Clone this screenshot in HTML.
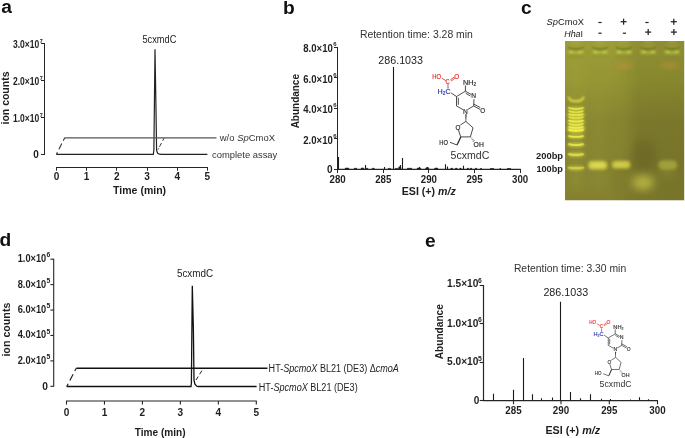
<!DOCTYPE html>
<html><head><meta charset="utf-8"><style>
html,body{margin:0;padding:0;background:#fff;}
svg{display:block;will-change:transform;}
svg{font-family:"Liberation Sans",sans-serif;fill:#1e1e1e;}
</style></head><body>
<svg width="685" height="438" viewBox="0 0 685 438">
<rect width="685" height="438" fill="#fff"/>
<text x="1.20" y="13.20" font-size="19.2" font-weight="bold" fill="#111">a</text>
<text x="282.90" y="13.90" font-size="19.2" font-weight="bold" fill="#111">b</text>
<text x="520.90" y="13.90" font-size="19.2" font-weight="bold" fill="#111">c</text>
<text x="-0.60" y="246.00" font-size="19.2" font-weight="bold" fill="#111">d</text>
<text x="424.90" y="246.70" font-size="19.2" font-weight="bold" fill="#111">e</text>
<line x1="44.50" y1="43.00" x2="44.50" y2="155.00" stroke="#262626" stroke-width="1"/>
<line x1="41.00" y1="154.50" x2="44.50" y2="154.50" stroke="#262626" stroke-width="1"/>
<text x="38.90" y="157.80" font-size="10.0" font-weight="bold" text-anchor="end">0</text>
<line x1="41.00" y1="117.50" x2="44.50" y2="117.50" stroke="#262626" stroke-width="1"/>
<text x="39.30" y="122.20" font-size="10.2" font-weight="bold" text-anchor="end" textLength="26.30" lengthAdjust="spacingAndGlyphs">1.0&#215;10</text>
<text x="39.70" y="116.60" font-size="5.5" font-weight="bold">7</text>
<line x1="41.00" y1="80.50" x2="44.50" y2="80.50" stroke="#262626" stroke-width="1"/>
<text x="39.30" y="85.20" font-size="10.2" font-weight="bold" text-anchor="end" textLength="26.30" lengthAdjust="spacingAndGlyphs">2.0&#215;10</text>
<text x="39.70" y="79.60" font-size="5.5" font-weight="bold">7</text>
<line x1="41.00" y1="43.50" x2="44.50" y2="43.50" stroke="#262626" stroke-width="1"/>
<text x="39.30" y="48.20" font-size="10.2" font-weight="bold" text-anchor="end" textLength="26.30" lengthAdjust="spacingAndGlyphs">3.0&#215;10</text>
<text x="39.70" y="42.60" font-size="5.5" font-weight="bold">7</text>
<line x1="56.00" y1="167.50" x2="207.90" y2="167.50" stroke="#262626" stroke-width="1"/>
<line x1="56.50" y1="167.50" x2="56.50" y2="170.70" stroke="#262626" stroke-width="1"/>
<text x="56.50" y="180.00" font-size="10.0" font-weight="bold" text-anchor="middle" textLength="5.60" lengthAdjust="spacingAndGlyphs">0</text>
<line x1="86.50" y1="167.50" x2="86.50" y2="170.70" stroke="#262626" stroke-width="1"/>
<text x="86.68" y="180.00" font-size="10.0" font-weight="bold" text-anchor="middle" textLength="5.60" lengthAdjust="spacingAndGlyphs">1</text>
<line x1="116.50" y1="167.50" x2="116.50" y2="170.70" stroke="#262626" stroke-width="1"/>
<text x="116.86" y="180.00" font-size="10.0" font-weight="bold" text-anchor="middle" textLength="5.60" lengthAdjust="spacingAndGlyphs">2</text>
<line x1="147.50" y1="167.50" x2="147.50" y2="170.70" stroke="#262626" stroke-width="1"/>
<text x="147.04" y="180.00" font-size="10.0" font-weight="bold" text-anchor="middle" textLength="5.60" lengthAdjust="spacingAndGlyphs">3</text>
<line x1="177.50" y1="167.50" x2="177.50" y2="170.70" stroke="#262626" stroke-width="1"/>
<text x="177.22" y="180.00" font-size="10.0" font-weight="bold" text-anchor="middle" textLength="5.60" lengthAdjust="spacingAndGlyphs">4</text>
<line x1="207.50" y1="167.50" x2="207.50" y2="170.70" stroke="#262626" stroke-width="1"/>
<text x="207.40" y="180.00" font-size="10.0" font-weight="bold" text-anchor="middle" textLength="5.60" lengthAdjust="spacingAndGlyphs">5</text>
<text x="113.10" y="193.90" font-size="11.0" font-weight="bold" textLength="53.00" lengthAdjust="spacingAndGlyphs">Time (min)</text>
<text transform="translate(9.0,98) rotate(-90)" font-size="11.2" font-weight="bold" text-anchor="middle" fill="#1e1e1e" textLength="53" lengthAdjust="spacingAndGlyphs">ion counts</text>
<path d="M56.3,154.4 L153.3,154.4 L153.9,150 L155.0,49.2 L156.0,110 L156.6,150.5 L157.6,153.3 L159.5,154.2 L161.5,154.4 L207.4,154.4" fill="none" stroke="#222" stroke-width="1.2"/>
<path d="M64.7,137.9 L216.5,137.9" fill="none" stroke="#555" stroke-width="1.4"/>
<path d="M56.3,154.5 L64.7,137.8" fill="none" stroke="#333" stroke-width="1.1" stroke-dasharray="2.6,3.2,6.5,3.2,4"/>
<path d="M158.0,149.6 L164.0,138.2" fill="none" stroke="#333" stroke-width="1.0" stroke-dasharray="1.4,1.8,4.2,2.6,3"/>
<text x="142.50" y="43.30" font-size="10.6" fill="#222" textLength="33.80" lengthAdjust="spacingAndGlyphs">5cxmdC</text>
<text x="219.80" y="140.90" font-size="9.5" fill="#333" textLength="55.20" lengthAdjust="spacingAndGlyphs">w/o <tspan font-style="italic">Sp</tspan>CmoX</text>
<text x="212.10" y="157.60" font-size="9.5" fill="#333" textLength="65.20" lengthAdjust="spacingAndGlyphs">complete assay</text>
<line x1="337.50" y1="47.00" x2="337.50" y2="169.80" stroke="#262626" stroke-width="1"/>
<line x1="334.00" y1="169.50" x2="337.50" y2="169.50" stroke="#262626" stroke-width="1"/>
<text x="332.60" y="172.80" font-size="10.0" font-weight="bold" text-anchor="end">0</text>
<line x1="334.00" y1="138.50" x2="337.50" y2="138.50" stroke="#262626" stroke-width="1"/>
<text x="332.80" y="143.50" font-size="10.2" font-weight="bold" text-anchor="end" textLength="29.50" lengthAdjust="spacingAndGlyphs">2.0&#215;10</text>
<text x="333.20" y="137.90" font-size="6" font-weight="bold">6</text>
<line x1="334.00" y1="108.50" x2="337.50" y2="108.50" stroke="#262626" stroke-width="1"/>
<text x="332.80" y="113.00" font-size="10.2" font-weight="bold" text-anchor="end" textLength="29.50" lengthAdjust="spacingAndGlyphs">4.0&#215;10</text>
<text x="333.20" y="107.40" font-size="6" font-weight="bold">6</text>
<line x1="334.00" y1="77.50" x2="337.50" y2="77.50" stroke="#262626" stroke-width="1"/>
<text x="332.80" y="82.50" font-size="10.2" font-weight="bold" text-anchor="end" textLength="29.50" lengthAdjust="spacingAndGlyphs">6.0&#215;10</text>
<text x="333.20" y="76.90" font-size="6" font-weight="bold">6</text>
<line x1="334.00" y1="47.50" x2="337.50" y2="47.50" stroke="#262626" stroke-width="1"/>
<text x="332.80" y="52.00" font-size="10.2" font-weight="bold" text-anchor="end" textLength="29.50" lengthAdjust="spacingAndGlyphs">8.0&#215;10</text>
<text x="333.20" y="46.40" font-size="6" font-weight="bold">6</text>
<line x1="337.00" y1="169.30" x2="520.80" y2="169.30" stroke="#262626" stroke-width="1.25"/>
<line x1="337.50" y1="169.30" x2="337.50" y2="173.10" stroke="#262626" stroke-width="1"/>
<text x="337.60" y="182.60" font-size="10.4" font-weight="bold" text-anchor="middle" textLength="16.20" lengthAdjust="spacingAndGlyphs">280</text>
<line x1="383.50" y1="169.30" x2="383.50" y2="173.10" stroke="#262626" stroke-width="1"/>
<text x="383.23" y="182.60" font-size="10.4" font-weight="bold" text-anchor="middle" textLength="16.20" lengthAdjust="spacingAndGlyphs">285</text>
<line x1="428.50" y1="169.30" x2="428.50" y2="173.10" stroke="#262626" stroke-width="1"/>
<text x="428.85" y="182.60" font-size="10.4" font-weight="bold" text-anchor="middle" textLength="16.20" lengthAdjust="spacingAndGlyphs">290</text>
<line x1="474.50" y1="169.30" x2="474.50" y2="173.10" stroke="#262626" stroke-width="1"/>
<text x="474.48" y="182.60" font-size="10.4" font-weight="bold" text-anchor="middle" textLength="16.20" lengthAdjust="spacingAndGlyphs">295</text>
<line x1="520.50" y1="169.30" x2="520.50" y2="173.10" stroke="#262626" stroke-width="1"/>
<text x="520.10" y="182.60" font-size="10.4" font-weight="bold" text-anchor="middle" textLength="16.20" lengthAdjust="spacingAndGlyphs">300</text>
<text x="401.70" y="195.30" font-size="11.0" font-weight="bold" textLength="54.10" lengthAdjust="spacingAndGlyphs">ESI (+) <tspan font-style="italic">m/z</tspan></text>
<text transform="translate(299.0,101.2) rotate(-90)" font-size="11.2" font-weight="bold" text-anchor="middle" fill="#1e1e1e" textLength="54.3" lengthAdjust="spacingAndGlyphs">Abundance</text>
<text x="359.90" y="38.20" font-size="10.4" fill="#333" textLength="113.00" lengthAdjust="spacingAndGlyphs">Retention time: 3.28 min</text>
<text x="378.30" y="63.80" font-size="10.8" fill="#222" textLength="44.70" lengthAdjust="spacingAndGlyphs">286.1033</text>
<path d="M338.50,169.30L338.50,156.90M393.50,169.30L393.50,67.00M402.50,169.30L402.50,158.00M400.50,169.30L400.50,165.00M365.50,169.30L365.50,165.00M445.50,169.30L445.50,164.20M463.50,169.30L463.50,165.70M419.50,169.30L419.50,167.00M427.50,169.30L427.50,167.00M447.50,169.30L447.50,166.50M384.50,169.30L384.50,167.00" fill="none" stroke="#1a1a1a" stroke-width="1.1"/>
<path d="M345,169.3 L345.4,168.10 L348.6,168.10 L349,169.3ZM354,169.3 L354.4,168.30 L356.6,168.30 L357,169.3ZM361,169.3 L361.4,168.00 L363.6,168.00 L364,169.3ZM366,169.3 L366.4,168.30 L367.6,168.30 L368,169.3ZM372,169.3 L372.4,168.30 L374.1,168.30 L374.5,169.3ZM388,169.3 L388.4,168.40 L390.6,168.40 L391,169.3ZM395,169.3 L395.4,168.40 L397.6,168.40 L398,169.3ZM398.5,169.3 L398.9,166.80 L400.6,166.80 L401,169.3ZM407,169.3 L407.4,168.30 L411.6,168.30 L412,169.3ZM417,169.3 L417.4,168.10 L420.6,168.10 L421,169.3ZM425.5,169.3 L425.9,167.80 L428.6,167.80 L429,169.3ZM434.5,169.3 L434.9,168.10 L437.6,168.10 L438,169.3ZM450.5,169.3 L450.9,168.30 L452.6,168.30 L453,169.3ZM455,169.3 L455.4,168.30 L457.1,168.30 L457.5,169.3ZM459.5,169.3 L459.9,168.30 L461.1,168.30 L461.5,169.3ZM467,169.3 L467.4,168.30 L468.6,168.30 L469,169.3ZM470,169.3 L470.4,168.30 L471.6,168.30 L472,169.3ZM475,169.3 L475.4,168.30 L476.6,168.30 L477,169.3ZM480,169.3 L480.4,168.50 L481.6,168.50 L482,169.3ZM490,169.3 L490.4,168.50 L493.6,168.50 L494,169.3ZM499.5,169.3 L499.9,168.50 L500.6,168.50 L501,169.3ZM507,169.3 L507.4,168.50 L510.6,168.50 L511,169.3Z" fill="#1e1e1e" stroke="#1e1e1e" stroke-width="0.6"/>
<g><text x="432.2" y="78.7" font-size="7.4" fill="#e62a2e" stroke="#e62a2e" stroke-width="0.18" textLength="8.8" lengthAdjust="spacingAndGlyphs">HO</text><text x="454.2" y="78.7" font-size="7.4" fill="#e62a2e" stroke="#e62a2e" stroke-width="0.18" textLength="5.0" lengthAdjust="spacingAndGlyphs">O</text><text x="445.6" y="83.6" font-size="7.0" fill="#e62a2e" stroke="#e62a2e" stroke-width="0.18" textLength="4.2" lengthAdjust="spacingAndGlyphs">C</text><line x1="442.0" y1="78.4" x2="445.9" y2="80.6" stroke="#e62a2e" stroke-width="0.85"/><line x1="450.4" y1="79.9" x2="454.2" y2="77.0" stroke="#e62a2e" stroke-width="0.85"/><line x1="451.1" y1="81.1" x2="454.8" y2="78.3" stroke="#e62a2e" stroke-width="0.85"/><line x1="448.0" y1="84.0" x2="448.0" y2="86.4" stroke="#e62a2e" stroke-width="0.85"/><line x1="448.0" y1="86.4" x2="448.0" y2="88.6" stroke="#3434b0" stroke-width="0.85"/><text x="437.6" y="94.1" font-size="7.0" fill="#3434b0" stroke="#3434b0" stroke-width="0.18" textLength="13.0" lengthAdjust="spacingAndGlyphs">H<tspan font-size="4.6" dy="1.2">2</tspan><tspan dy="-1.2">C</tspan></text><line x1="451.2" y1="93.0" x2="456.5" y2="96.5" stroke="#2a2a2a" stroke-width="0.85"/><line x1="456.5" y1="96.5" x2="465.4" y2="91.2" stroke="#2a2a2a" stroke-width="0.85"/><line x1="465.4" y1="91.2" x2="471.4" y2="94.6" stroke="#2a2a2a" stroke-width="0.85"/><line x1="465.6" y1="93.2" x2="470.4" y2="96.0" stroke="#2a2a2a" stroke-width="0.85"/><line x1="474.0" y1="99.2" x2="473.7" y2="106.0" stroke="#2a2a2a" stroke-width="0.85"/><line x1="473.7" y1="106.0" x2="467.8" y2="109.4" stroke="#2a2a2a" stroke-width="0.85"/><line x1="463.0" y1="109.6" x2="456.5" y2="106.0" stroke="#2a2a2a" stroke-width="0.85"/><line x1="456.5" y1="106.0" x2="456.5" y2="96.5" stroke="#2a2a2a" stroke-width="0.85"/><line x1="458.3" y1="104.8" x2="458.3" y2="97.7" stroke="#2a2a2a" stroke-width="0.85"/><line x1="465.4" y1="91.2" x2="465.4" y2="85.4" stroke="#2a2a2a" stroke-width="0.85"/><line x1="473.7" y1="106.0" x2="480.0" y2="109.4" stroke="#2a2a2a" stroke-width="0.85"/><line x1="473.7" y1="104.0" x2="480.3" y2="107.6" stroke="#2a2a2a" stroke-width="0.85"/><text x="463.0" y="84.6" font-size="7.2" fill="#2a2a2a" stroke="#2a2a2a" stroke-width="0.18" textLength="13.0" lengthAdjust="spacingAndGlyphs">NH<tspan font-size="4.6" dy="1.2">2</tspan></text><text x="471.3" y="98.4" font-size="7.2" fill="#2a2a2a" stroke="#2a2a2a" stroke-width="0.18" textLength="4.8" lengthAdjust="spacingAndGlyphs">N</text><text x="463.1" y="113.7" font-size="7.2" fill="#2a2a2a" stroke="#2a2a2a" stroke-width="0.18" textLength="4.8" lengthAdjust="spacingAndGlyphs">N</text><text x="480.3" y="113.1" font-size="7.2" fill="#2a2a2a" stroke="#2a2a2a" stroke-width="0.18" textLength="4.9" lengthAdjust="spacingAndGlyphs">O</text><path d="M465.3,114.2 L466.6,114.2 L466.2,121.4 L465.6,121.4Z" fill="#2a2a2a"/><line x1="465.9" y1="121.4" x2="460.4" y2="125.0" stroke="#2a2a2a" stroke-width="0.85"/><line x1="465.9" y1="121.4" x2="473.0" y2="127.8" stroke="#2a2a2a" stroke-width="0.85"/><line x1="473.0" y1="127.8" x2="470.4" y2="136.9" stroke="#2a2a2a" stroke-width="0.85"/><line x1="470.4" y1="136.9" x2="460.7" y2="136.9" stroke="#2a2a2a" stroke-width="0.85"/><line x1="460.7" y1="136.9" x2="458.4" y2="129.8" stroke="#2a2a2a" stroke-width="0.85"/><text x="455.4" y="129.5" font-size="7.0" fill="#2a2a2a" stroke="#2a2a2a" stroke-width="0.18" textLength="4.9" lengthAdjust="spacingAndGlyphs">O</text><path d="M460.2,136.7 L461.4,137.2 L457.6,145.2 L456.5,144.8Z" fill="#2a2a2a"/><line x1="457.0" y1="145.0" x2="450.0" y2="142.3" stroke="#2a2a2a" stroke-width="0.85"/><text x="439.3" y="144.5" font-size="7.0" fill="#2a2a2a" stroke="#2a2a2a" stroke-width="0.18" textLength="8.6" lengthAdjust="spacingAndGlyphs">HO</text><line x1="470.74066666666664" y1="138.044" x2="471.4593333333333" y2="137.456" stroke="#2a2a2a" stroke-width="0.5"/><line x1="471.31233333333336" y1="138.999" x2="472.28766666666667" y2="138.201" stroke="#2a2a2a" stroke-width="0.5"/><line x1="471.884" y1="139.95399999999998" x2="473.116" y2="138.946" stroke="#2a2a2a" stroke-width="0.5"/><line x1="472.4556666666667" y1="140.90900000000002" x2="473.9443333333333" y2="139.691" stroke="#2a2a2a" stroke-width="0.5"/><line x1="473.0273333333334" y1="141.864" x2="474.7726666666667" y2="140.436" stroke="#2a2a2a" stroke-width="0.5"/><text x="473.6" y="146.6" font-size="7.0" fill="#2a2a2a" stroke="#2a2a2a" stroke-width="0.18" textLength="10.2" lengthAdjust="spacingAndGlyphs">OH</text></g>
<text x="450.50" y="158.90" font-size="10.6" fill="#333" textLength="38.80" lengthAdjust="spacingAndGlyphs">5cxmdC</text>
<text x="546.50" y="24.90" font-size="9.3" fill="#222" textLength="37.40" lengthAdjust="spacingAndGlyphs"><tspan font-style="italic">Sp</tspan>CmoX</text>
<text x="564.20" y="36.90" font-size="9.3" fill="#222" textLength="18.90" lengthAdjust="spacingAndGlyphs"><tspan font-style="italic">Hha</tspan>I</text>
<line x1="598.40" y1="22.50" x2="601.60" y2="22.50" stroke="#222" stroke-width="1.2"/>
<line x1="620.60" y1="21.70" x2="626.60" y2="21.70" stroke="#222" stroke-width="1.25"/>
<line x1="623.60" y1="18.70" x2="623.60" y2="24.70" stroke="#222" stroke-width="1.25"/>
<line x1="645.40" y1="22.50" x2="648.60" y2="22.50" stroke="#222" stroke-width="1.2"/>
<line x1="670.80" y1="21.70" x2="676.80" y2="21.70" stroke="#222" stroke-width="1.25"/>
<line x1="673.80" y1="18.70" x2="673.80" y2="24.70" stroke="#222" stroke-width="1.25"/>
<line x1="598.40" y1="33.20" x2="601.60" y2="33.20" stroke="#222" stroke-width="1.2"/>
<line x1="622.80" y1="33.20" x2="626.00" y2="33.20" stroke="#222" stroke-width="1.2"/>
<line x1="645.20" y1="32.10" x2="651.20" y2="32.10" stroke="#222" stroke-width="1.25"/>
<line x1="648.20" y1="29.10" x2="648.20" y2="35.10" stroke="#222" stroke-width="1.25"/>
<line x1="670.90" y1="32.10" x2="676.90" y2="32.10" stroke="#222" stroke-width="1.25"/>
<line x1="673.90" y1="29.10" x2="673.90" y2="35.10" stroke="#222" stroke-width="1.25"/>
<text x="536.00" y="158.90" font-size="9.4" font-weight="bold" textLength="27.10" lengthAdjust="spacingAndGlyphs">200bp</text>
<text x="536.40" y="172.10" font-size="9.4" font-weight="bold" textLength="26.60" lengthAdjust="spacingAndGlyphs">100bp</text>
<defs>
<clipPath id="gclip"><rect x="565.0" y="41.0" width="119.0" height="159.5"/></clipPath>
<linearGradient id="gv" x1="0" y1="41.0" x2="0" y2="200.5" gradientUnits="userSpaceOnUse">
<stop offset="0" stop-color="#9d9d38"/><stop offset="0.25" stop-color="#959533"/><stop offset="0.5" stop-color="#878430"/><stop offset="0.75" stop-color="#84812f"/><stop offset="1" stop-color="#85812f"/>
</linearGradient>
<linearGradient id="gh" x1="565.0" y1="0" x2="684.0" y2="0" gradientUnits="userSpaceOnUse">
<stop offset="0" stop-color="#000" stop-opacity="0"/><stop offset="0.38" stop-color="#000" stop-opacity="0.0"/><stop offset="0.62" stop-color="#000" stop-opacity="0.09"/><stop offset="1" stop-color="#000" stop-opacity="0.1"/>
</linearGradient>
<filter id="b1" x="-50%" y="-50%" width="200%" height="200%"><feGaussianBlur stdDeviation="1.0"/></filter>
<filter id="b15" x="-50%" y="-50%" width="200%" height="200%"><feGaussianBlur stdDeviation="1.6"/></filter>
<filter id="b2" x="-50%" y="-50%" width="200%" height="200%"><feGaussianBlur stdDeviation="2.4"/></filter>
<filter id="b3" x="-50%" y="-50%" width="200%" height="200%"><feGaussianBlur stdDeviation="4.5"/></filter>
<filter id="b6" x="-50%" y="-50%" width="200%" height="200%"><feGaussianBlur stdDeviation="9"/></filter>
</defs>
<g clip-path="url(#gclip)">
<rect x="565.0" y="41.0" width="119.0" height="159.5" fill="url(#gv)"/>
<rect x="565.0" y="41.0" width="119.0" height="159.5" fill="url(#gh)"/>
<g filter="url(#b3)"><ellipse cx="644" cy="156" rx="13" ry="17" fill="#655f1e" opacity="0.5"/><rect x="568" y="60" width="16" height="130" fill="#a4a43c" opacity="0.25"/><rect x="590" y="60" width="16" height="130" fill="#9a9838" opacity="0.25"/><rect x="614" y="60" width="16" height="100" fill="#969436" opacity="0.2"/></g>
<g filter="url(#b1)">
<rect x="567.5" y="44.6" width="16.5" height="11.6" rx="2.5" fill="#a8aa40" opacity="0.35"/>
<path d="M568.0,46.6 Q575.7,50.6 583.5,46.6 L583.5,48.2 Q575.7,52.2 568.0,48.2Z" fill="#56541c" opacity="0.7"/>
<ellipse cx="571.2" cy="52.0" rx="2.8" ry="1.3" fill="#c4e040" opacity="0.8"/>
<ellipse cx="580.2" cy="52.0" rx="2.8" ry="1.3" fill="#c4e040" opacity="0.8"/>
<ellipse cx="575.7" cy="52.6" rx="4" ry="1.0" fill="#bcd040" opacity="0.5"/>
<rect x="568.0" y="55.6" width="15.5" height="1.0" rx="0.5" fill="#75721f" opacity="0.5"/>
<rect x="571.0" y="41.5" width="9.5" height="1.3" rx="0.6" fill="#c0cc40" opacity="0.45"/>
<rect x="591.9" y="44.6" width="16.5" height="11.6" rx="2.5" fill="#a8aa40" opacity="0.35"/>
<path d="M592.4,46.6 Q600.1,50.6 607.9,46.6 L607.9,48.2 Q600.1,52.2 592.4,48.2Z" fill="#56541c" opacity="0.7"/>
<ellipse cx="595.6" cy="52.0" rx="2.8" ry="1.3" fill="#c4e040" opacity="0.8"/>
<ellipse cx="604.6" cy="52.0" rx="2.8" ry="1.3" fill="#c4e040" opacity="0.8"/>
<ellipse cx="600.1" cy="52.6" rx="4" ry="1.0" fill="#bcd040" opacity="0.5"/>
<rect x="592.4" y="55.6" width="15.5" height="1.0" rx="0.5" fill="#75721f" opacity="0.5"/>
<rect x="595.4" y="41.5" width="9.5" height="1.3" rx="0.6" fill="#c0cc40" opacity="0.45"/>
<rect x="615.5" y="44.6" width="17" height="11.6" rx="2.5" fill="#a8aa40" opacity="0.35"/>
<path d="M616.0,46.6 Q624.0,50.6 632.0,46.6 L632.0,48.2 Q624.0,52.2 616.0,48.2Z" fill="#56541c" opacity="0.7"/>
<ellipse cx="619.2" cy="52.0" rx="2.8" ry="1.3" fill="#c4e040" opacity="0.8"/>
<ellipse cx="628.8" cy="52.0" rx="2.8" ry="1.3" fill="#c4e040" opacity="0.8"/>
<ellipse cx="624.0" cy="52.6" rx="4" ry="1.0" fill="#bcd040" opacity="0.5"/>
<rect x="616.0" y="55.6" width="16" height="1.0" rx="0.5" fill="#75721f" opacity="0.5"/>
<rect x="619.0" y="41.5" width="10" height="1.3" rx="0.6" fill="#c0cc40" opacity="0.45"/>
<rect x="640.0" y="44.6" width="16.5" height="11.6" rx="2.5" fill="#a8aa40" opacity="0.35"/>
<path d="M640.5,46.6 Q648.2,50.6 656.0,46.6 L656.0,48.2 Q648.2,52.2 640.5,48.2Z" fill="#56541c" opacity="0.7"/>
<ellipse cx="643.7" cy="52.0" rx="2.8" ry="1.3" fill="#c4e040" opacity="0.8"/>
<ellipse cx="652.8" cy="52.0" rx="2.8" ry="1.3" fill="#c4e040" opacity="0.8"/>
<ellipse cx="648.2" cy="52.6" rx="4" ry="1.0" fill="#bcd040" opacity="0.5"/>
<rect x="640.5" y="55.6" width="15.5" height="1.0" rx="0.5" fill="#75721f" opacity="0.5"/>
<rect x="643.5" y="41.5" width="9.5" height="1.3" rx="0.6" fill="#c0cc40" opacity="0.45"/>
<rect x="664.1" y="44.6" width="16" height="11.6" rx="2.5" fill="#a8aa40" opacity="0.35"/>
<path d="M664.6,46.6 Q672.1,50.6 679.6,46.6 L679.6,48.2 Q672.1,52.2 664.6,48.2Z" fill="#56541c" opacity="0.7"/>
<ellipse cx="667.8" cy="52.0" rx="2.8" ry="1.3" fill="#c4e040" opacity="0.8"/>
<ellipse cx="676.4" cy="52.0" rx="2.8" ry="1.3" fill="#c4e040" opacity="0.8"/>
<ellipse cx="672.1" cy="52.6" rx="4" ry="1.0" fill="#bcd040" opacity="0.5"/>
<rect x="664.6" y="55.6" width="15" height="1.0" rx="0.5" fill="#75721f" opacity="0.5"/>
<rect x="667.6" y="41.5" width="9" height="1.3" rx="0.6" fill="#c0cc40" opacity="0.45"/>
</g>
<g filter="url(#b2)"><ellipse cx="624" cy="65.6" rx="9" ry="2.6" fill="#c49038" opacity="0.6"/><ellipse cx="670" cy="65.6" rx="9" ry="2.6" fill="#c49038" opacity="0.6"/></g>
<g filter="url(#b1)">
<path d="M568.6,96.8 Q569.2,101.2 576,101.2 Q582.8,101.2 583.6,96.8" fill="none" stroke="#e4e844" stroke-width="2.0" opacity="0.9"/>
<path d="M567.8,107.5 L584.2,107.5 L584.2,131.5 Q576,133.5 567.8,131.5Z" fill="#bfbf3c" opacity="0.22"/>
</g>
<filter id="b07" x="-50%" y="-50%" width="200%" height="200%"><feGaussianBlur stdDeviation="0.75"/></filter>
<g filter="url(#b15)">
<path d="M568.6,108.0 Q569.5,109.1 576,109.1 Q582.5,109.1 583.4,108.0" fill="none" stroke="#e8e848" stroke-width="3" opacity="0.7"/>
<path d="M568.6,113.9 Q569.5,115.0 576,115.0 Q582.5,115.0 583.4,113.9" fill="none" stroke="#e8e848" stroke-width="5" opacity="0.7"/>
<path d="M568.6,120.3 Q569.5,121.4 576,121.4 Q582.5,121.4 583.4,120.3" fill="none" stroke="#e8e848" stroke-width="5" opacity="0.7"/>
<path d="M568.6,126.4 Q569.5,127.5 576,127.5 Q582.5,127.5 583.4,126.4" fill="none" stroke="#e8e848" stroke-width="5" opacity="0.75"/>
<path d="M568.6,129.6 Q569.5,130.7 576,130.7 Q582.5,130.7 583.4,129.6" fill="none" stroke="#e8e848" stroke-width="3.5" opacity="0.8"/>
<path d="M568.6,135.7 Q569.5,136.8 576,136.8 Q582.5,136.8 583.4,135.7" fill="none" stroke="#e8e848" stroke-width="3.5" opacity="0.7"/>
<path d="M568.6,143.8 Q569.5,144.9 576,144.9 Q582.5,144.9 583.4,143.8" fill="none" stroke="#e8e848" stroke-width="3.8" opacity="0.65"/>
<path d="M568.6,153.7 Q569.5,154.8 576,154.8 Q582.5,154.8 583.4,153.7" fill="none" stroke="#e8e848" stroke-width="4" opacity="0.6"/>
<path d="M568.6,167.1 Q569.5,168.2 576,168.2 Q582.5,168.2 583.4,167.1" fill="none" stroke="#e8e848" stroke-width="4.2" opacity="0.5"/>
</g>
<g filter="url(#b07)">
<path d="M568.6,107.4 Q569.5,108.9 576,108.9 Q582.5,108.9 583.4,107.4" fill="none" stroke="#f0f048" stroke-width="1.5" opacity="0.8"/>
<path d="M568.6,110.6 Q569.5,112.1 576,112.1 Q582.5,112.1 583.4,110.6" fill="none" stroke="#f0f048" stroke-width="1.4" opacity="0.8"/>
<path d="M568.6,113.6 Q569.5,115.1 576,115.1 Q582.5,115.1 583.4,113.6" fill="none" stroke="#f0f048" stroke-width="1.4" opacity="0.8"/>
<path d="M568.6,116.6 Q569.5,118.1 576,118.1 Q582.5,118.1 583.4,116.6" fill="none" stroke="#f0f048" stroke-width="1.4" opacity="0.8"/>
<path d="M568.6,120.0 Q569.5,121.5 576,121.5 Q582.5,121.5 583.4,120.0" fill="none" stroke="#f0f048" stroke-width="1.5" opacity="0.85"/>
<path d="M568.6,123.4 Q569.5,124.9 576,124.9 Q582.5,124.9 583.4,123.4" fill="none" stroke="#f0f048" stroke-width="1.5" opacity="0.85"/>
<path d="M568.6,126.4 Q569.5,127.9 576,127.9 Q582.5,127.9 583.4,126.4" fill="none" stroke="#f0f048" stroke-width="1.5" opacity="0.9"/>
<path d="M568.6,129.3 Q569.5,130.8 576,130.8 Q582.5,130.8 583.4,129.3" fill="none" stroke="#f0f048" stroke-width="2.0" opacity="1.0"/>
<path d="M568.6,135.4 Q569.5,136.9 576,136.9 Q582.5,136.9 583.4,135.4" fill="none" stroke="#f0f048" stroke-width="1.9" opacity="0.8"/>
<path d="M568.6,143.5 Q569.5,145.0 576,145.0 Q582.5,145.0 583.4,143.5" fill="none" stroke="#f0f048" stroke-width="2.1" opacity="0.7"/>
<path d="M568.6,153.4 Q569.5,154.9 576,154.9 Q582.5,154.9 583.4,153.4" fill="none" stroke="#f0f048" stroke-width="2.3" opacity="0.6"/>
<path d="M568.6,166.8 Q569.5,168.3 576,168.3 Q582.5,168.3 583.4,166.8" fill="none" stroke="#f0f048" stroke-width="2.6" opacity="0.45"/>
</g>
<g filter="url(#b15)"><rect x="588.2" y="161.0" width="19" height="8.4" rx="4" fill="#dcd84a" opacity="0.85"/><rect x="611.8" y="160.8" width="18.6" height="7.8" rx="3.9" fill="#d8d448" opacity="0.78"/><rect x="658.5" y="160.2" width="18.5" height="9.5" rx="4.5" fill="#bcb844" opacity="0.62"/></g>
<g filter="url(#b15)"><ellipse cx="597.6" cy="165.2" rx="6.5" ry="2.0" fill="#f0ec5a" opacity="0.45"/><ellipse cx="621.2" cy="164.8" rx="6.5" ry="1.8" fill="#ece856" opacity="0.35"/></g>
<g filter="url(#b3)"><ellipse cx="643.0" cy="182.6" rx="11" ry="7.5" fill="#c8c44a" opacity="0.75"/><ellipse cx="667.5" cy="173" rx="7" ry="3.5" fill="#a8a43c" opacity="0.35"/></g>
</g>
<rect x="684.0" y="41.0" width="1" height="159.5" fill="#e4e4cc"/>
<line x1="53.70" y1="258.70" x2="53.70" y2="386.80" stroke="#262626" stroke-width="1.1"/>
<line x1="50.40" y1="386.30" x2="53.70" y2="386.30" stroke="#262626" stroke-width="1.1"/>
<text x="47.80" y="389.80" font-size="10.2" font-weight="bold" text-anchor="end">0</text>
<line x1="50.40" y1="360.88" x2="53.70" y2="360.88" stroke="#262626" stroke-width="1.1"/>
<text x="46.20" y="363.78" font-size="10.0" font-weight="bold" text-anchor="end" textLength="28.50" lengthAdjust="spacingAndGlyphs">2.0&#215;10</text>
<text x="46.40" y="358.98" font-size="6.8" font-weight="bold">5</text>
<line x1="50.40" y1="335.46" x2="53.70" y2="335.46" stroke="#262626" stroke-width="1.1"/>
<text x="46.20" y="338.36" font-size="10.0" font-weight="bold" text-anchor="end" textLength="28.50" lengthAdjust="spacingAndGlyphs">4.0&#215;10</text>
<text x="46.40" y="333.56" font-size="6.8" font-weight="bold">5</text>
<line x1="50.40" y1="310.04" x2="53.70" y2="310.04" stroke="#262626" stroke-width="1.1"/>
<text x="46.20" y="312.94" font-size="10.0" font-weight="bold" text-anchor="end" textLength="28.50" lengthAdjust="spacingAndGlyphs">6.0&#215;10</text>
<text x="46.40" y="308.14" font-size="6.8" font-weight="bold">5</text>
<line x1="50.40" y1="284.62" x2="53.70" y2="284.62" stroke="#262626" stroke-width="1.1"/>
<text x="46.20" y="287.52" font-size="10.0" font-weight="bold" text-anchor="end" textLength="28.50" lengthAdjust="spacingAndGlyphs">8.0&#215;10</text>
<text x="46.40" y="282.72" font-size="6.8" font-weight="bold">5</text>
<line x1="50.40" y1="259.20" x2="53.70" y2="259.20" stroke="#262626" stroke-width="1.1"/>
<text x="46.20" y="262.10" font-size="10.0" font-weight="bold" text-anchor="end" textLength="28.50" lengthAdjust="spacingAndGlyphs">1.0&#215;10</text>
<text x="46.40" y="257.30" font-size="6.8" font-weight="bold">6</text>
<line x1="66.00" y1="401.00" x2="256.80" y2="401.00" stroke="#262626" stroke-width="1.1"/>
<line x1="66.50" y1="401.00" x2="66.50" y2="404.60" stroke="#262626" stroke-width="1.1"/>
<text x="66.50" y="416.30" font-size="10.0" font-weight="bold" text-anchor="middle" textLength="5.60" lengthAdjust="spacingAndGlyphs">0</text>
<line x1="104.46" y1="401.00" x2="104.46" y2="404.60" stroke="#262626" stroke-width="1.1"/>
<text x="104.46" y="416.30" font-size="10.0" font-weight="bold" text-anchor="middle" textLength="5.60" lengthAdjust="spacingAndGlyphs">1</text>
<line x1="142.42" y1="401.00" x2="142.42" y2="404.60" stroke="#262626" stroke-width="1.1"/>
<text x="142.42" y="416.30" font-size="10.0" font-weight="bold" text-anchor="middle" textLength="5.60" lengthAdjust="spacingAndGlyphs">2</text>
<line x1="180.38" y1="401.00" x2="180.38" y2="404.60" stroke="#262626" stroke-width="1.1"/>
<text x="180.38" y="416.30" font-size="10.0" font-weight="bold" text-anchor="middle" textLength="5.60" lengthAdjust="spacingAndGlyphs">3</text>
<line x1="218.34" y1="401.00" x2="218.34" y2="404.60" stroke="#262626" stroke-width="1.1"/>
<text x="218.34" y="416.30" font-size="10.0" font-weight="bold" text-anchor="middle" textLength="5.60" lengthAdjust="spacingAndGlyphs">4</text>
<line x1="256.30" y1="401.00" x2="256.30" y2="404.60" stroke="#262626" stroke-width="1.1"/>
<text x="256.30" y="416.30" font-size="10.0" font-weight="bold" text-anchor="middle" textLength="5.60" lengthAdjust="spacingAndGlyphs">5</text>
<text x="134.70" y="436.30" font-size="11.0" font-weight="bold" textLength="50.90" lengthAdjust="spacingAndGlyphs">Time (min)</text>
<text transform="translate(10.0,329.6) rotate(-90)" font-size="11.2" font-weight="bold" text-anchor="middle" fill="#1e1e1e" textLength="54" lengthAdjust="spacingAndGlyphs">ion counts</text>
<path d="M66.7,386.5 L191.0,386.5 L191.4,383 L192.3,285.8 L193.4,330 L194.0,380 L194.8,384 L196.5,386.0 L198,386.5 L256.6,386.5" fill="none" stroke="#111" stroke-width="1.3"/>
<path d="M76.3,368.2 L267.5,368.2" fill="none" stroke="#111" stroke-width="1.5"/>
<path d="M66.7,386.5 L76.3,368.2" fill="none" stroke="#222" stroke-width="1.2" stroke-dasharray="3.2,3.6,7,3.6,4"/>
<path d="M196.0,380.0 L202.9,369.0" fill="none" stroke="#222" stroke-width="1.0" stroke-dasharray="4.2,2.6"/>
<text x="176.90" y="277.30" font-size="10.2" fill="#222" textLength="36.20" lengthAdjust="spacingAndGlyphs">5cxmdC</text>
<text x="268.60" y="372.10" font-size="10.0" fill="#222" textLength="130.30" lengthAdjust="spacingAndGlyphs">HT-<tspan font-style="italic">SpcmoX</tspan> BL21 (DE3) &#916;<tspan font-style="italic">cmoA</tspan></text>
<text x="258.80" y="390.50" font-size="10.0" fill="#222" textLength="98.90" lengthAdjust="spacingAndGlyphs">HT-<tspan font-style="italic">SpcmoX</tspan> BL21 (DE3)</text>
<line x1="483.50" y1="285.01" x2="483.50" y2="401.00" stroke="#262626" stroke-width="1.2"/>
<line x1="479.70" y1="400.50" x2="483.50" y2="400.50" stroke="#262626" stroke-width="1.1"/>
<text x="479.30" y="403.80" font-size="10.0" font-weight="bold" text-anchor="end">0</text>
<line x1="479.70" y1="362.50" x2="483.50" y2="362.50" stroke="#262626" stroke-width="1.1"/>
<text x="478.40" y="365.07" font-size="10.2" font-weight="bold" text-anchor="end" textLength="31.30" lengthAdjust="spacingAndGlyphs">5.0&#215;10</text>
<text x="478.00" y="360.67" font-size="6.8" font-weight="bold">5</text>
<line x1="479.70" y1="323.50" x2="483.50" y2="323.50" stroke="#262626" stroke-width="1.1"/>
<text x="478.40" y="326.74" font-size="10.2" font-weight="bold" text-anchor="end" textLength="31.30" lengthAdjust="spacingAndGlyphs">1.0&#215;10</text>
<text x="478.00" y="322.34" font-size="6.8" font-weight="bold">6</text>
<line x1="479.70" y1="285.50" x2="483.50" y2="285.50" stroke="#262626" stroke-width="1.1"/>
<text x="478.40" y="287.41" font-size="10.2" font-weight="bold" text-anchor="end" textLength="31.30" lengthAdjust="spacingAndGlyphs">1.5&#215;10</text>
<text x="478.00" y="283.01" font-size="6.8" font-weight="bold">6</text>
<line x1="483.00" y1="400.50" x2="657.93" y2="400.50" stroke="#262626" stroke-width="1.25"/>
<line x1="513.50" y1="400.50" x2="513.50" y2="404.30" stroke="#262626" stroke-width="1.1"/>
<text x="513.50" y="413.50" font-size="10.4" font-weight="bold" text-anchor="middle" textLength="16.30" lengthAdjust="spacingAndGlyphs">285</text>
<line x1="561.00" y1="400.50" x2="561.00" y2="404.30" stroke="#262626" stroke-width="1.1"/>
<text x="561.00" y="413.50" font-size="10.4" font-weight="bold" text-anchor="middle" textLength="16.30" lengthAdjust="spacingAndGlyphs">290</text>
<line x1="609.30" y1="400.50" x2="609.30" y2="404.30" stroke="#262626" stroke-width="1.1"/>
<text x="609.30" y="413.50" font-size="10.4" font-weight="bold" text-anchor="middle" textLength="16.30" lengthAdjust="spacingAndGlyphs">295</text>
<line x1="657.50" y1="400.50" x2="657.50" y2="404.30" stroke="#262626" stroke-width="1.1"/>
<text x="657.50" y="413.50" font-size="10.4" font-weight="bold" text-anchor="middle" textLength="16.30" lengthAdjust="spacingAndGlyphs">300</text>
<text x="545.40" y="434.00" font-size="11.0" font-weight="bold" textLength="54.70" lengthAdjust="spacingAndGlyphs">ESI (+) <tspan font-style="italic">m/z</tspan></text>
<text transform="translate(443.4,331.7) rotate(-90)" font-size="11.2" font-weight="bold" text-anchor="middle" fill="#1e1e1e" textLength="55" lengthAdjust="spacingAndGlyphs">Abundance</text>
<text x="513.90" y="271.80" font-size="10.4" fill="#333" textLength="112.30" lengthAdjust="spacingAndGlyphs">Retention time: 3.30 min</text>
<text x="543.40" y="295.80" font-size="10.8" fill="#222" textLength="44.80" lengthAdjust="spacingAndGlyphs">286.1033</text>
<path d="M493.50,400.50L493.50,393.70M513.50,400.50L513.50,389.70M523.50,400.50L523.50,358.00M532.50,400.50L532.50,394.20M541.50,400.50L541.50,398.30M552.50,400.50L552.50,397.50M560.50,400.50L560.50,301.70M570.50,400.50L570.50,392.00M580.50,400.50L580.50,398.30M590.50,400.50L590.50,394.20M601.50,400.50L601.50,398.70M610.50,400.50L610.50,399.00M630.50,400.50L630.50,399.40M639.50,400.50L639.50,397.20M648.50,400.50L648.50,399.30" fill="none" stroke="#1a1a1a" stroke-width="1.1"/>
<g transform="translate(252.2,262.7) scale(0.78)"><text x="432.2" y="78.7" font-size="7.4" fill="#e62a2e" stroke="#e62a2e" stroke-width="0.18" textLength="8.8" lengthAdjust="spacingAndGlyphs">HO</text><text x="454.2" y="78.7" font-size="7.4" fill="#e62a2e" stroke="#e62a2e" stroke-width="0.18" textLength="5.0" lengthAdjust="spacingAndGlyphs">O</text><text x="445.6" y="83.6" font-size="7.0" fill="#e62a2e" stroke="#e62a2e" stroke-width="0.18" textLength="4.2" lengthAdjust="spacingAndGlyphs">C</text><line x1="442.0" y1="78.4" x2="445.9" y2="80.6" stroke="#e62a2e" stroke-width="0.85"/><line x1="450.4" y1="79.9" x2="454.2" y2="77.0" stroke="#e62a2e" stroke-width="0.85"/><line x1="451.1" y1="81.1" x2="454.8" y2="78.3" stroke="#e62a2e" stroke-width="0.85"/><line x1="448.0" y1="84.0" x2="448.0" y2="86.4" stroke="#e62a2e" stroke-width="0.85"/><line x1="448.0" y1="86.4" x2="448.0" y2="88.6" stroke="#3434b0" stroke-width="0.85"/><text x="437.6" y="94.1" font-size="7.0" fill="#3434b0" stroke="#3434b0" stroke-width="0.18" textLength="13.0" lengthAdjust="spacingAndGlyphs">H<tspan font-size="4.6" dy="1.2">2</tspan><tspan dy="-1.2">C</tspan></text><line x1="451.2" y1="93.0" x2="456.5" y2="96.5" stroke="#2a2a2a" stroke-width="0.85"/><line x1="456.5" y1="96.5" x2="465.4" y2="91.2" stroke="#2a2a2a" stroke-width="0.85"/><line x1="465.4" y1="91.2" x2="471.4" y2="94.6" stroke="#2a2a2a" stroke-width="0.85"/><line x1="465.6" y1="93.2" x2="470.4" y2="96.0" stroke="#2a2a2a" stroke-width="0.85"/><line x1="474.0" y1="99.2" x2="473.7" y2="106.0" stroke="#2a2a2a" stroke-width="0.85"/><line x1="473.7" y1="106.0" x2="467.8" y2="109.4" stroke="#2a2a2a" stroke-width="0.85"/><line x1="463.0" y1="109.6" x2="456.5" y2="106.0" stroke="#2a2a2a" stroke-width="0.85"/><line x1="456.5" y1="106.0" x2="456.5" y2="96.5" stroke="#2a2a2a" stroke-width="0.85"/><line x1="458.3" y1="104.8" x2="458.3" y2="97.7" stroke="#2a2a2a" stroke-width="0.85"/><line x1="465.4" y1="91.2" x2="465.4" y2="85.4" stroke="#2a2a2a" stroke-width="0.85"/><line x1="473.7" y1="106.0" x2="480.0" y2="109.4" stroke="#2a2a2a" stroke-width="0.85"/><line x1="473.7" y1="104.0" x2="480.3" y2="107.6" stroke="#2a2a2a" stroke-width="0.85"/><text x="463.0" y="84.6" font-size="7.2" fill="#2a2a2a" stroke="#2a2a2a" stroke-width="0.18" textLength="13.0" lengthAdjust="spacingAndGlyphs">NH<tspan font-size="4.6" dy="1.2">2</tspan></text><text x="471.3" y="98.4" font-size="7.2" fill="#2a2a2a" stroke="#2a2a2a" stroke-width="0.18" textLength="4.8" lengthAdjust="spacingAndGlyphs">N</text><text x="463.1" y="113.7" font-size="7.2" fill="#2a2a2a" stroke="#2a2a2a" stroke-width="0.18" textLength="4.8" lengthAdjust="spacingAndGlyphs">N</text><text x="480.3" y="113.1" font-size="7.2" fill="#2a2a2a" stroke="#2a2a2a" stroke-width="0.18" textLength="4.9" lengthAdjust="spacingAndGlyphs">O</text><path d="M465.3,114.2 L466.6,114.2 L466.2,121.4 L465.6,121.4Z" fill="#2a2a2a"/><line x1="465.9" y1="121.4" x2="460.4" y2="125.0" stroke="#2a2a2a" stroke-width="0.85"/><line x1="465.9" y1="121.4" x2="473.0" y2="127.8" stroke="#2a2a2a" stroke-width="0.85"/><line x1="473.0" y1="127.8" x2="470.4" y2="136.9" stroke="#2a2a2a" stroke-width="0.85"/><line x1="470.4" y1="136.9" x2="460.7" y2="136.9" stroke="#2a2a2a" stroke-width="0.85"/><line x1="460.7" y1="136.9" x2="458.4" y2="129.8" stroke="#2a2a2a" stroke-width="0.85"/><text x="455.4" y="129.5" font-size="7.0" fill="#2a2a2a" stroke="#2a2a2a" stroke-width="0.18" textLength="4.9" lengthAdjust="spacingAndGlyphs">O</text><path d="M460.2,136.7 L461.4,137.2 L457.6,145.2 L456.5,144.8Z" fill="#2a2a2a"/><line x1="457.0" y1="145.0" x2="450.0" y2="142.3" stroke="#2a2a2a" stroke-width="0.85"/><text x="439.3" y="144.5" font-size="7.0" fill="#2a2a2a" stroke="#2a2a2a" stroke-width="0.18" textLength="8.6" lengthAdjust="spacingAndGlyphs">HO</text><line x1="470.74066666666664" y1="138.044" x2="471.4593333333333" y2="137.456" stroke="#2a2a2a" stroke-width="0.5"/><line x1="471.31233333333336" y1="138.999" x2="472.28766666666667" y2="138.201" stroke="#2a2a2a" stroke-width="0.5"/><line x1="471.884" y1="139.95399999999998" x2="473.116" y2="138.946" stroke="#2a2a2a" stroke-width="0.5"/><line x1="472.4556666666667" y1="140.90900000000002" x2="473.9443333333333" y2="139.691" stroke="#2a2a2a" stroke-width="0.5"/><line x1="473.0273333333334" y1="141.864" x2="474.7726666666667" y2="140.436" stroke="#2a2a2a" stroke-width="0.5"/><text x="473.6" y="146.6" font-size="7.0" fill="#2a2a2a" stroke="#2a2a2a" stroke-width="0.18" textLength="10.2" lengthAdjust="spacingAndGlyphs">OH</text></g>
<text x="599.60" y="387.40" font-size="8.6" fill="#333" textLength="32.00" lengthAdjust="spacingAndGlyphs">5cxmdC</text>
</svg>
</body></html>
